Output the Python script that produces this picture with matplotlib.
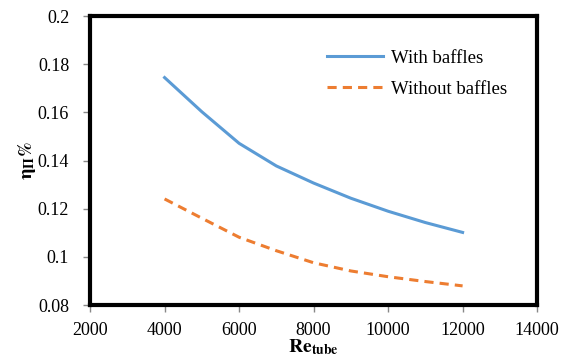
import numpy as np
import matplotlib.pyplot as plt

plt.rcParams['font.family'] = ['Liberation Serif', 'DejaVu Serif']
plt.rcParams['mathtext.fontset'] = 'stix'

re_tube = [4000, 5000, 6000, 7000, 8000, 9000, 10000, 11000, 12000]
eff_with = [0.1745, 0.1603, 0.1472, 0.1378, 0.1307, 0.1244, 0.1190, 0.1143, 0.1102]
eff_without = [0.1241, 0.1161, 0.1082, 0.1026, 0.0976, 0.0942, 0.0918, 0.0898, 0.0880]

fig = plt.figure(figsize=(5.63, 3.59), dpi=100)
ax = fig.add_axes([0.16, 0.15, 0.794, 0.805])

ax.plot(re_tube, eff_with, color='#5b9bd5', lw=2.2, label='With baffles')
ax.plot(re_tube, eff_without, color='#ed7d31', lw=2.2, ls=(0, (3, 2)), label='Without baffles')

ax.set_xlim(2000, 14000)
ax.set_ylim(0.08, 0.2)
ax.set_xticks(np.arange(2000, 14001, 2000))
ax.set_xticklabels(['2000', '4000', '6000', '8000', '10000', '12000', '14000'])
ax.set_yticks([0.08, 0.1, 0.12, 0.14, 0.16, 0.18, 0.2])
ax.set_yticklabels(['0.08', '0.1', '0.12', '0.14', '0.16', '0.18', '0.2'])
ax.tick_params(direction='out', length=5, color='#888888', labelsize=13, width=1)
ax.tick_params(axis='x', pad=7)
ax.tick_params(axis='y', pad=10)

for s in ax.spines.values():
    s.set_linewidth(3)
    s.set_color('black')

ax.set_xlabel(r'$\mathbf{Re}_{\mathbf{tube}}$', fontsize=14, labelpad=-1)
ax.set_ylabel(r'$\mathbf{\eta}_{\mathbf{\Pi}}\mathbf{\%}$', fontsize=14, labelpad=0)

ax.legend(loc='upper left', frameon=False, fontsize=13.5, handlelength=3.0,
          handletextpad=0.4, bbox_to_anchor=(0.53, 0.885), borderaxespad=0,
          borderpad=0, labelspacing=0.75)

fig.savefig('out.png', dpi=100)
